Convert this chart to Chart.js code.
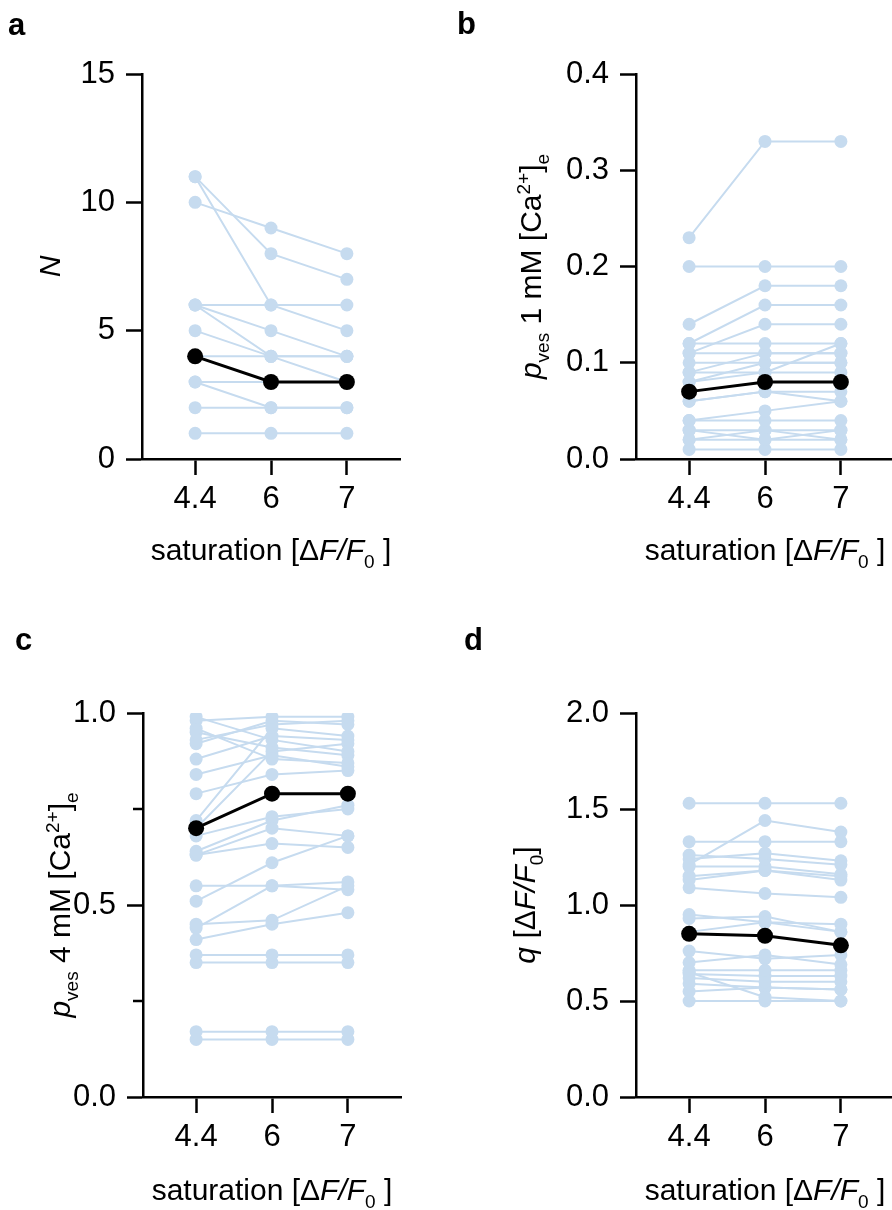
<!DOCTYPE html>
<html>
<head>
<meta charset="utf-8">
<script src="https://cdn.jsdelivr.net/npm/chart.js@4.4.1/dist/chart.umd.min.js"></script>
<style>
  html, body { margin: 0; padding: 0; background: #fff; overflow: hidden; }
  #fig { position: relative; width: 892px; height: 1210px; overflow: hidden; }
  canvas { position: absolute; }
</style>
</head>
<body>
<div id="fig">
  <canvas id="panelA" width="446" height="605" style="left:0;top:0"></canvas>
  <canvas id="panelB" width="460" height="605" style="left:446px;top:0"></canvas>
  <canvas id="panelC" width="446" height="605" style="left:0;top:605px"></canvas>
  <canvas id="panelD" width="460" height="605" style="left:446px;top:605px"></canvas>
</div>
<script>
// categories (saturation, dF/F0)
const xLabels = ['4.4', '6', '7'];
const xPos = [1, 2, 3];

// a - N
const nTicks = [0, 5, 10, 15];
const nSeries = [
  [11, 8, 7], [11, 6, 5], [10, 9, 8], [6, 6, 6], [6, 5, 4], [6, 4, 3],
  [5, 4, 4], [4, 4, 4], [3, 3, 3], [3, 2, 2], [2, 2, 2], [1, 1, 1]
];
const nMean = [4, 3, 3];

// b - p_ves at 1 mM Ca
const pves1Ticks = [0, 0.1, 0.2, 0.3, 0.4];
const pves1Series = [
  [0.23, 0.33, 0.33], [0.20, 0.20, 0.20], [0.14, 0.18, 0.18], [0.12, 0.16, 0.16],
  [0.12, 0.12, 0.12], [0.11, 0.14, 0.14], [0.11, 0.11, 0.11], [0.10, 0.10, 0.10],
  [0.09, 0.11, 0.11], [0.09, 0.09, 0.12], [0.08, 0.10, 0.10], [0.08, 0.09, 0.09],
  [0.07, 0.08, 0.08], [0.06, 0.07, 0.07], [0.06, 0.07, 0.06], [0.04, 0.05, 0.06],
  [0.04, 0.04, 0.04], [0.03, 0.02, 0.03], [0.02, 0.03, 0.03], [0.03, 0.03, 0.02],
  [0.02, 0.02, 0.02], [0.01, 0.01, 0.01]
];
const pves1Mean = [0.07, 0.08, 0.08];

// c - p_ves at 4 mM Ca
const pves4Ticks = [0, 0.5, 1.0];
const pves4Minor = [0.25, 0.75];
const pves4Series = [
  [0.99, 0.93, 0.90], [0.98, 0.99, 0.99], [0.96, 0.88, 0.87], [0.95, 0.91, 0.89],
  [0.93, 0.97, 0.98], [0.92, 0.98, 0.97], [0.88, 0.94, 0.93], [0.84, 0.89, 0.86],
  [0.79, 0.84, 0.85], [0.72, 0.96, 0.94], [0.70, 0.90, 0.92], [0.68, 0.73, 0.75],
  [0.64, 0.72, 0.76], [0.63, 0.70, 0.68], [0.63, 0.66, 0.65], [0.55, 0.55, 0.56],
  [0.51, 0.61, 0.68], [0.45, 0.46, 0.55], [0.44, 0.55, 0.54], [0.41, 0.45, 0.48],
  [0.37, 0.37, 0.37], [0.35, 0.35, 0.35], [0.17, 0.17, 0.17], [0.15, 0.15, 0.15]
];
const pves4Mean = [0.70, 0.79, 0.79];

// d - q
const qTicks = [0, 0.5, 1.0, 1.5, 2.0];
const qSeries = [
  [1.53, 1.53, 1.53], [1.21, 1.44, 1.38], [1.33, 1.33, 1.33], [1.24, 1.27, 1.23],
  [1.26, 1.24, 1.21], [1.20, 1.20, 1.16], [1.15, 1.18, 1.13], [1.13, 1.18, 1.15],
  [1.09, 1.06, 1.04], [0.95, 0.91, 0.90], [0.93, 0.94, 0.86], [0.86, 0.91, 0.86],
  [0.76, 0.72, 0.74], [0.70, 0.74, 0.69], [0.66, 0.66, 0.66], [0.64, 0.63, 0.63],
  [0.65, 0.52, 0.50], [0.62, 0.60, 0.60], [0.59, 0.57, 0.56], [0.55, 0.57, 0.56],
  [0.50, 0.50, 0.50]
];
const qMean = [0.85, 0.84, 0.79];

const FAMILY = '"Liberation Sans", Arial, sans-serif';
const LIGHT = '#c6dbef';
const TITLE_SIZE = 30;

// titles as styled pieces (italic / sub / sup)
const xTitle = [{t: 'saturation [\u0394'}, {t: 'F/F', it: true}, {t: '0', sub: true}, {t: ' ]'}];

function drawRich(ctx, segs, x, y, rot, size) {
    ctx.save();
    ctx.translate(x, y);
    ctx.rotate(rot);
    ctx.textAlign = 'left';
    ctx.textBaseline = 'alphabetic';
    const fontOf = s => (s.it ? 'italic ' : '') + Math.round((s.sub || s.sup) ? size * 0.62 : size) + 'px ' + FAMILY;
    let total = 0;
    segs.forEach(s => { ctx.font = fontOf(s); s.w = ctx.measureText(s.t).width; total += s.w; });
    let cx = -total / 2;
    segs.forEach(s => {
        ctx.font = fontOf(s);
        const dy = s.sub ? size * 0.28 : (s.sup ? -size * 0.38 : 0);
        ctx.fillText(s.t, cx, dy);
        cx += s.w;
    });
    ctx.restore();
}

const panelText = {
    id: 'panelText',
    afterDraw(chart, args, o) {
        const ctx = chart.ctx;
        const a = chart.chartArea;
        ctx.save();
        ctx.fillStyle = '#000';
        ctx.font = 'bold 31px ' + FAMILY;
        ctx.textAlign = 'left';
        ctx.textBaseline = 'alphabetic';
        ctx.fillText(o.letter, o.letterX, o.letterY);
        // short minor ticks
        if (o.minorTicks) {
            const ys = chart.scales.y;
            ctx.strokeStyle = '#000';
            ctx.lineWidth = 2.5;
            o.minorTicks.forEach(v => {
                const py = ys.getPixelForValue(v);
                ctx.beginPath();
                ctx.moveTo(a.left - 10, py);
                ctx.lineTo(a.left, py);
                ctx.stroke();
            });
        }
        drawRich(ctx, o.yTitle, o.yTitleX, (a.top + a.bottom) / 2, -Math.PI / 2, TITLE_SIZE);
        drawRich(ctx, xTitle, (a.left + a.right) / 2, o.xTitleY, 0, TITLE_SIZE);
        ctx.restore();
    }
};

function makePanel(id, p) {
    const canvas = document.getElementById(id);
    const W = canvas.width, H = canvas.height;
    const datasets = [{
        data: p.mean.map((v, i) => ({x: xPos[i], y: v})),
        borderColor: '#000', backgroundColor: '#000', borderWidth: 3,
        pointRadius: 8, pointBackgroundColor: '#000', pointBorderWidth: 0, order: 0
    }];
    p.series.forEach(s => datasets.push({
        data: s.map((v, i) => ({x: xPos[i], y: v})),
        borderColor: LIGHT, backgroundColor: LIGHT, borderWidth: 2,
        pointRadius: 6.5, pointBackgroundColor: LIGHT, pointBorderWidth: 0, order: 1
    }));
    const allTicks = p.yTicks.concat(p.minorTicks || []).sort((u, v) => u - v);
    const tickFont = {family: FAMILY, size: 31};

    return new Chart(canvas, {
        type: 'line',
        data: {datasets},
        options: {
            responsive: false,
            animation: false,
            devicePixelRatio: 1,
            layout: {padding: {top: p.box.top, right: W - p.box.right, left: 0, bottom: 0}},
            plugins: {
                legend: {display: false},
                tooltip: {enabled: false},
                panelText: {
                    letter: p.letter, letterX: p.letterX, letterY: p.letterY,
                    yTitle: p.yTitle, yTitleX: p.yTitleX, xTitleY: p.xTitleY,
                    minorTicks: p.minorTicks
                }
            },
            scales: {
                x: {
                    type: 'linear', min: 0.3, max: 3.7,
                    afterBuildTicks: s => { s.ticks = xPos.map(v => ({value: v})); },
                    afterFit: s => { s.height = H - p.box.bottom; },
                    ticks: {
                        callback: v => xLabels[xPos.indexOf(v)],
                        font: tickFont, color: '#000', padding: 6, maxRotation: 0, autoSkip: false
                    },
                    grid: {drawOnChartArea: false, tickLength: 16, tickWidth: 2.5, tickColor: '#000'},
                    border: {color: '#000', width: 2.5}
                },
                y: {
                    type: 'linear', min: 0, max: p.yTicks[p.yTicks.length - 1],
                    afterBuildTicks: s => { s.ticks = allTicks.map(v => ({value: v})); },
                    afterFit: s => { s.width = p.box.left; },
                    ticks: {
                        callback: v => p.yTicks.includes(v) ? v.toFixed(p.decimals) : '',
                        font: tickFont, color: '#000', padding: 11, autoSkip: false
                    },
                    grid: {
                        drawOnChartArea: false, tickLength: 16, tickWidth: 2.5,
                        tickColor: c => (c.tick && !p.yTicks.includes(c.tick.value)) ? 'rgba(0,0,0,0)' : '#000'
                    },
                    border: {color: '#000', width: 2.5}
                }
            }
        },
        plugins: [panelText]
    });
}

makePanel('panelA', {
    series: nSeries, mean: nMean, yTicks: nTicks, decimals: 0,
    box: {left: 142, right: 400, top: 74, bottom: 459},
    letter: 'a', letterX: 8, letterY: 35,
    yTitle: [{t: 'N', it: true}], yTitleX: 60, xTitleY: 560
});

makePanel('panelB', {
    series: pves1Series, mean: pves1Mean, yTicks: pves1Ticks, decimals: 1,
    box: {left: 190, right: 448, top: 74, bottom: 459},
    letter: 'b', letterX: 11, letterY: 34,
    yTitle: [{t: 'p', it: true}, {t: 'ves', sub: true}, {t: ' 1 mM [Ca'}, {t: '2+', sup: true}, {t: ']'}, {t: 'e', sub: true}],
    yTitleX: 95, xTitleY: 560
});

makePanel('panelC', {
    series: pves4Series, mean: pves4Mean, yTicks: pves4Ticks, decimals: 1, minorTicks: pves4Minor,
    box: {left: 143, right: 401, top: 108, bottom: 492},
    letter: 'c', letterX: 15, letterY: 45,
    yTitle: [{t: 'p', it: true}, {t: 'ves', sub: true}, {t: ' 4 mM [Ca'}, {t: '2+', sup: true}, {t: ']'}, {t: 'e', sub: true}],
    yTitleX: 70, xTitleY: 595
});

makePanel('panelD', {
    series: qSeries, mean: qMean, yTicks: qTicks, decimals: 1,
    box: {left: 190, right: 448, top: 108, bottom: 492},
    letter: 'd', letterX: 18, letterY: 45,
    yTitle: [{t: 'q', it: true}, {t: ' [\u0394'}, {t: 'F/F', it: true}, {t: '0', sub: true}, {t: ']'}],
    yTitleX: 89, xTitleY: 595
});
</script>
</body>
</html>
